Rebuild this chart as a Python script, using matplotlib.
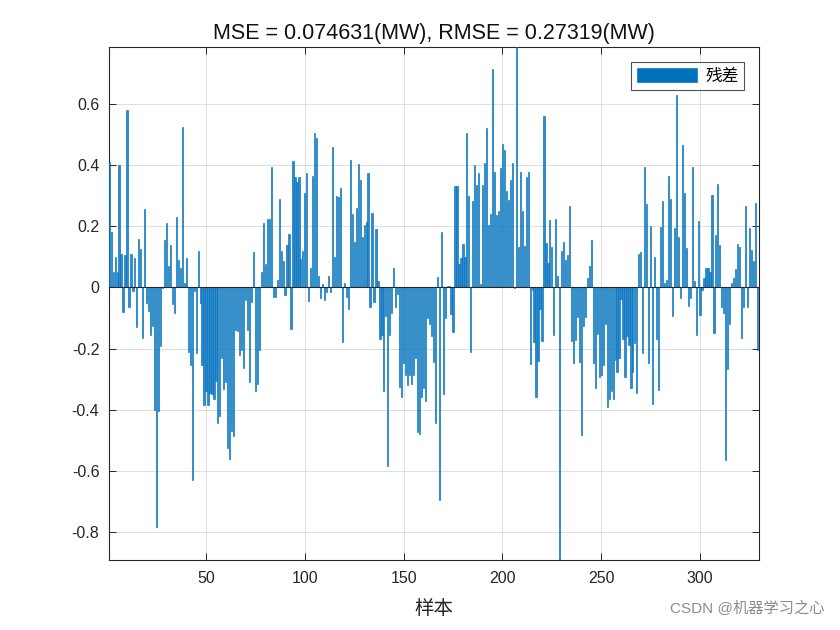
import numpy as np
import matplotlib
matplotlib.use('Agg')
import matplotlib.pyplot as plt

plt.rcParams['font.family'] = ['Liberation Sans', 'Noto Sans CJK SC', 'DejaVu Sans']

# 残差 values, samples 1..330
residual = [
    0.41, 0.18, 0.05, 0.10, 0.05, 0.40, 0.11, -0.08, 0.105, 0.58,
    -0.065, 0.11, -0.01, 0.095, -0.13, 0.16, 0.125, -0.165, 0.256, -0.05,
    -0.078, -0.156, -0.125, -0.40, -0.785, -0.405, -0.19, -0.003, 0.155, 0.21,
    0.07, 0.14, -0.055, -0.085, 0.23, 0.09, 0.065, 0.525, 0.015, 0.095,
    -0.21,
    -0.255, -0.63, -0.01, -0.215, 0.12, -0.05, -0.255, -0.385, -0.34, -0.385,
    -0.345, -0.35, -0.365, -0.305, -0.445, -0.42, -0.23, -0.333, -0.31, -0.525,
    -0.56, -0.47, -0.485, -0.14, -0.143, -0.22, -0.203, -0.265, -0.04, -0.14,
    -0.31, -0.047, 0.115, -0.338, -0.317, -0.205, 0.05, 0.21,
    0.078, 0.225, 0.225, 0.395, -0.03, -0.03, 0.026, 0.29, 0.12, 0.087,
    -0.025, 0.14, 0.175, -0.137, 0.415, 0.36, 0.345, 0.36, 0.093, 0.12,
    0.31, 0.375, -0.044, 0.065, 0.365, 0.505, 0.49, 0.037, -0.033, 0.011,
    -0.041, -0.016, 0.037, -0.016, 0.458, 0.1, 0.3, 0.295, 0.325, -0.18,
    0.013, -0.03, -0.072,
    0.417, 0.241, 0.15, 0.26, 0.403, 0.35, 0.166, 0.203, 0.215, 0.375,
    -0.063, 0.244, -0.047, 0.19, 0.02, -0.17, -0.156, -0.338, -0.092, -0.583,
    -0.157, -0.083, 0.064, -0.063, -0.022, -0.325, -0.36, -0.246, -0.287, -0.32,
    -0.287, -0.316, -0.287, -0.23, -0.472, -0.478, -0.358, -0.33, -0.37, -0.1,
    -0.12,
    -0.16, -0.243, -0.443, 0.035, -0.696, 0.18, -0.347, -0.1, 0.004, 0.005,
    -0.088, -0.146, 0.333, 0.333, 0.076, 0.098, 0.142, 0.1, 0.506, 0.3,
    -0.21, 0.284, 0.401, 0.334, 0.375, 0.011, 0.334, 0.406, 0.522, 0.206,
    0.241, 0.714, 0.378, 0.237, 0.251, 0.39, 0.471, 0.449, 0.314, 0.285,
    0.351, 0.408, -0.003, 0.786, 0.133, 0.378, 0.251, 0.135, 0.36, 0.377,
    -0.251, -0.009, -0.178, -0.358, -0.241, -0.072, -0.176, 0.56, 0.144, 0.081,
    0.222, 0.131, -0.156, 0.225, 0.039, -0.892, 0.118, 0.15, 0.089, 0.106,
    0.266, -0.176, -0.246, -0.172, -0.096, -0.243, -0.483, -0.125, -0.098, 0.031,
    0.071,
    0.154, -0.246, -0.328, -0.153, -0.294, -0.287, -0.254, -0.118, -0.39, -0.366,
    -0.338, -0.365, -0.238, -0.276, -0.23, -0.039, -0.169, -0.292, -0.159, -0.189,
    -0.328, -0.278, -0.181, -0.345, 0.111, 0.115, -0.216, 0.393, 0.272, -0.246,
    0.201, -0.382, 0.099, -0.169, -0.334, 0.198, 0.284, 0.015, 0.026, 0.364,
    0.288,
    -0.094, 0.196, 0.629, 0.166, -0.033, 0.466, 0.31, 0.128, -0.06, -0.036,
    0.393, 0.022, -0.156, 0.218, -0.09, -0.009, 0.031, 0.065, 0.065, 0.051,
    0.304, -0.15, 0.173, 0.339, 0.138, -0.065, -0.083, -0.563, -0.268, -0.121,
    0.016, 0.032, 0.062, 0.142, 0.131, -0.165, -0.065, 0.268, -0.063, 0.195,
    0.122, 0.087, 0.275, -0.205, -0.069,
]
samples = np.arange(1, len(residual) + 1)
mse = 0.074631
rmse = 0.27319

fig = plt.figure(figsize=(8.4, 6.3), dpi=100)
ax = fig.add_axes([0.13, 0.111, 0.774, 0.814])

ax.bar(samples, residual, width=0.6, facecolor='#2f88cc', edgecolor='#0072BD',
       linewidth=0.45, label='残差', zorder=3)
ax.axhline(0, color='#262626', linewidth=0.8, zorder=4)

ax.set_xlim(1, len(residual))
ax.set_ylim(min(residual), max(residual))
ax.set_xticks(np.arange(50, 301, 50))
ax.set_yticks(np.arange(-0.8, 0.61, 0.2))
ax.set_yticklabels(['-0.8', '-0.6', '-0.4', '-0.2', '0', '0.2', '0.4', '0.6'])

ax.grid(True, color='#d9d9d9', linewidth=0.6, zorder=0)
ax.tick_params(direction='in', top=True, right=True, labelsize=11.5, length=5,
               width=0.7, colors='#262626')
ax.tick_params(axis='x', pad=8)
ax.tick_params(axis='y', pad=7)
for s in ax.spines.values():
    s.set_linewidth(0.8)
    s.set_color('#262626')

ax.set_title(f'MSE = {mse}(MW), RMSE = {rmse}(MW)', fontsize=15.5, color='#111111', pad=6)
ax.set_xlabel('样本', fontsize=14, color='#262626', labelpad=10)

leg = ax.legend(loc='upper right', fontsize=12, frameon=True, fancybox=False,
                edgecolor='#262626', handlelength=3.6, handleheight=0.9,
                handletextpad=0.5, borderaxespad=0.9, borderpad=0.35)
leg.get_frame().set_linewidth(0.8)
leg.legend_handles[0].set_facecolor('#0072BD')

fig.text(0.982, 0.022, 'CSDN @机器学习之心', ha='right', va='bottom', fontsize=11,
         color='#8c8c8c')

fig.savefig('out.png', dpi=100)
